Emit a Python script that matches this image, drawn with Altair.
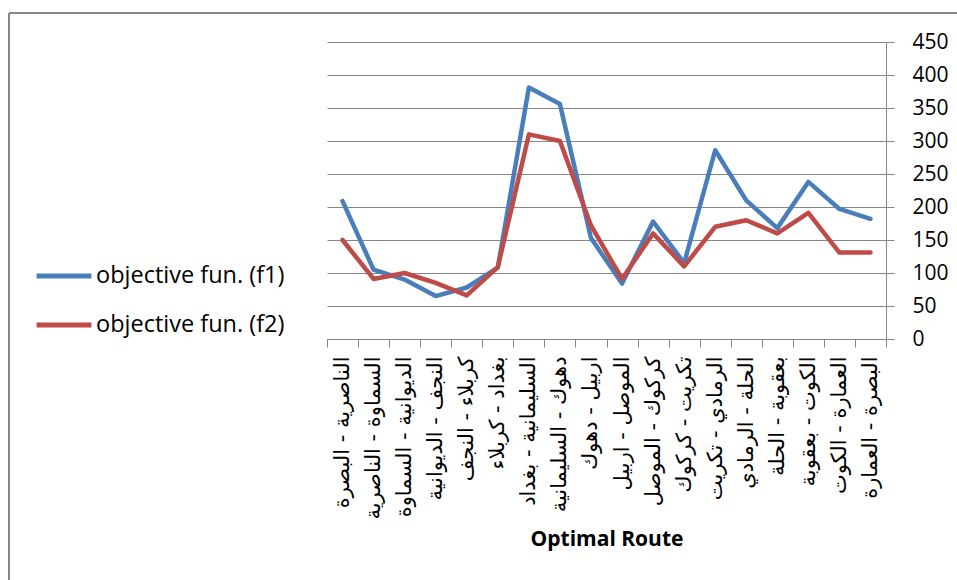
import altair as alt
import pandas as pd

routes = [
    "الناصرية - البصرة",
    "السماوة - الناصرية",
    "الديوانية - السماوة",
    "النجف - الديوانية",
    "كربلاء - النجف",
    "بغداد - كربلاء",
    "السليمانية - بغداد",
    "دهوك - السليمانية",
    "اربيل - دهوك",
    "الموصل - اربيل",
    "كركوك - الموصل",
    "تكريت - كركوك",
    "الرمادي - تكريت",
    "الحلة - الرمادي",
    "بعقوبة - الحلة",
    "الكوت - بعقوبة",
    "العمارة - الكوت",
    "البصرة - العمارة",
]
f1 = [209, 105, 90, 65, 78, 108, 381, 356, 153, 84, 178, 115, 286, 210, 168, 238, 197, 182]
f2 = [150, 91, 100, 85, 66, 109, 310, 300, 172, 91, 160, 110, 170, 180, 160, 191, 131, 131]
series = ["objective fun. (f1)", "objective fun. (f2)"]
colors = ["#4A7EBB", "#BE4B48"]
y_ticks = [0, 50, 100, 150, 200, 250, 300, 350, 400, 450]

rows = []
for name, vals in zip(series, [f1, f2]):
    for r, v in zip(routes, vals):
        rows.append({"route": r, "series": name, "value": v})
df = pd.DataFrame(rows)

W, H = 559, 297
L, T = 327, 42
GRAY = "#868686"
FONT = "Open Sans"

lines = alt.Chart(df).mark_line(strokeWidth=4.5, strokeCap="round", strokeJoin="round").encode(
    x=alt.X(
        "route:N",
        sort=routes,
        scale=alt.Scale(type="band", paddingInner=0, paddingOuter=0),
        axis=alt.Axis(
            title="Optimal Route",
            labelAngle=270,
            tickBand="extent",
            tickSize=8,
            tickColor=GRAY,
            domainColor=GRAY,
            labelFont="DejaVu Sans",
            labelFontSize=21,
            labelColor="#000000",
            labelPadding=9,
            labelLimit=300,
            titleFont=FONT,
            titleFontSize=21,
            titleFontWeight="bold",
            titleColor="#000000",
            titlePadding=9,
            grid=False,
        ),
    ),
    y=alt.Y(
        "value:Q",
        scale=alt.Scale(domain=[0, 450]),
        axis=alt.Axis(
            orient="right",
            values=y_ticks,
            title=None,
            grid=True,
            gridColor=GRAY,
            gridWidth=1,
            gridOpacity=1,
            tickSize=8,
            tickColor=GRAY,
            domainColor=GRAY,
            labelFont=FONT,
            labelFontSize=21,
            labelColor="#000000",
            labelPadding=18,
        ),
    ),
    color=alt.Color(
        "series:N",
        scale=alt.Scale(domain=series, range=colors),
        legend=alt.Legend(
            title=None,
            orient="none",
            legendX=34 - L,
            legendY=204,
            symbolType="stroke",
            symbolSize=3000,
            symbolStrokeWidth=5,
            labelFont=FONT,
            labelFontSize=23.5,
            labelColor="#000000",
            labelOffset=2,
            rowPadding=7,
            labelLimit=300,
        ),
    ),
)

frame_top = alt.Chart(alt.Data(values=[{}])).mark_rule(color=GRAY, strokeWidth=2).encode(
    x=alt.value(9 - L), x2=alt.value(957 - L), y=alt.value(13 - T)
)
frame_left = alt.Chart(alt.Data(values=[{}])).mark_rule(color=GRAY, strokeWidth=2).encode(
    x=alt.value(9 - L), y=alt.value(13 - T), y2=alt.value(580 - T)
)

chart = alt.layer(lines, frame_top, frame_left).properties(
    width=W,
    height=H,
    autosize=alt.AutoSizeParams(type="none"),
    padding={"left": L, "top": T, "right": 957 - L - W, "bottom": 580 - T - H},
    background="#ffffff",
).configure_view(strokeWidth=0)

chart.save("out.html", embed_options={"renderer": "svg", "actions": False})
